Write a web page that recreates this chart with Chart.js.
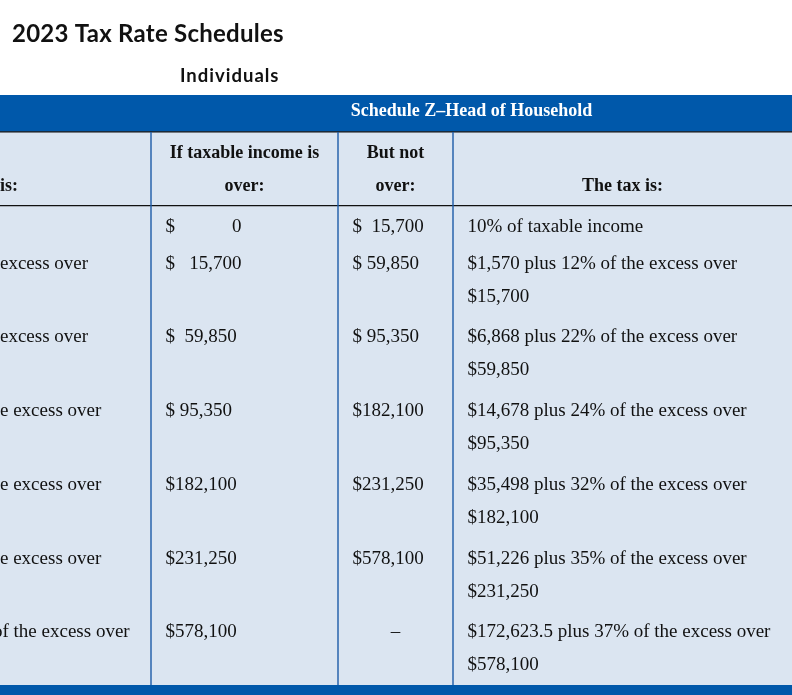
<!DOCTYPE html>
<html><head><meta charset="utf-8">
<script src="https://cdn.jsdelivr.net/npm/chart.js@4"></script>
<style>html,body{margin:0;padding:0;background:#fff;overflow:hidden}canvas{display:block}</style>
</head><body>
<canvas id="c" width="792" height="695"></canvas>
<script>
// ---------- DATA ----------
const pageTitle = "2023 Tax Rate Schedules";
const pageSubtitle = "Individuals";
const scheduleName = "Schedule Z\u2013Head of Household";
const headerLine1 = ["", "If taxable income is", "But not", ""];
const headerLine2 = ["is:", "over:", "over:", "The tax is:"];
const ifOver = [0, 15700, 59850, 95350, 182100, 231250, 578100];
const butNotOver = [15700, 59850, 95350, 182100, 231250, 578100, null];
const baseTax = [0, 1570, 6868, 14678, 35498, 51226, 172623.5];
const ratePct = [10, 12, 22, 24, 32, 35, 37];
const ifOverLabels = ["$            0", "$   15,700", "$  59,850", "$ 95,350", "$182,100", "$231,250", "$578,100"];
const butNotLabels = ["$  15,700", "$ 59,850", "$ 95,350", "$182,100", "$231,250", "$578,100", "\u2013"];
const leftColLabels = ["", "excess over", "excess over", "e excess over", "e excess over", "e excess over", "of the excess over"];

// ---------- LAYOUT / STYLE ----------
const X_MAX = 792;          // x-scale units span the table width
const LINES = 16;           // y-scale units: text lines in the table
const colEdges = [0, 151, 338, 453, 792];
const CELL_PAD = 14.5;
const LINE_SHIFT = [0.07, -0.03]; // first / second text line inside a cell (y units)
const BAND = '#0058AA', BODY = '#DBE5F1', VLINE = '#1D5CA8', HLINE = '#111111';
const SERIF = '"Liberation Serif", "Times New Roman", serif';
const SANS = 'Lato, "Open Sans", sans-serif';

const fmt = v => v.toLocaleString('en-US');
const rowStartLine = i => (i === 0 ? 3 : 2 + 2 * i);
const taxText = i => i === 0
  ? [ratePct[i] + "% of taxable income"]
  : ["$" + fmt(baseTax[i]) + " plus " + ratePct[i] + "% of the excess over", "$" + fmt(ifOver[i])];

const lineDs = (pts, color) => ({
  type: 'line', data: pts, borderColor: color, borderWidth: 1.4,
  pointRadius: 0, showLine: true, fill: false, tension: 0
});
const datasets = [
  ...colEdges.slice(1, 4).map(x => lineDs([{x, y: 1}, {x, y: LINES}], VLINE)),
  ...[1, 3].map(y => lineDs([{x: 0, y}, {x: X_MAX, y}], HLINE))
];

const tablePlugin = {
  id: 'table',
  beforeDatasetsDraw(chart) {
    const {ctx, scales: {x, y}} = chart;
    ctx.save();
    ctx.fillStyle = '#fff';
    ctx.fillRect(0, 0, chart.width, chart.height);
    const x0 = x.getPixelForValue(0), x1 = x.getPixelForValue(X_MAX);
    ctx.fillStyle = BAND;
    ctx.fillRect(x0, y.getPixelForValue(0), x1 - x0, y.getPixelForValue(1) - y.getPixelForValue(0));
    ctx.fillRect(x0, y.getPixelForValue(LINES), x1 - x0, chart.height - y.getPixelForValue(LINES));
    ctx.fillStyle = BODY;
    ctx.fillRect(x0, y.getPixelForValue(1), x1 - x0, y.getPixelForValue(LINES) - y.getPixelForValue(1));
    // titles
    ctx.fillStyle = '#111';
    ctx.textBaseline = 'alphabetic';
    ctx.textAlign = 'left';
    ctx.font = 'bold 24px ' + SANS;
    ctx.letterSpacing = '0.25px';
    ctx.fillText(pageTitle, 12, 41.5);
    ctx.font = 'bold 18.5px ' + SANS;
    ctx.letterSpacing = '1px';
    ctx.fillText(pageSubtitle, 180, 82);
    ctx.letterSpacing = '0px';
    ctx.restore();
  },
  afterDatasetsDraw(chart) {
    const {ctx, scales: {x, y}} = chart;
    const mid = l => y.getPixelForValue(l + 0.5);
    const midK = (l, k) => y.getPixelForValue(l + k + 0.5 + LINE_SHIFT[k]);
    const colCenter = c => (x.getPixelForValue(colEdges[c]) + x.getPixelForValue(colEdges[c + 1])) / 2;
    const colLeft = c => x.getPixelForValue(colEdges[c]) + CELL_PAD;
    ctx.save();
    ctx.textBaseline = 'middle';
    // band title
    ctx.fillStyle = '#fff';
    ctx.font = 'bold 18px ' + SERIF;
    ctx.textAlign = 'center';
    ctx.fillText(scheduleName, (x.getPixelForValue(colEdges[1]) + x.getPixelForValue(X_MAX)) / 2, mid(0) - 2);
    // header row
    ctx.fillStyle = '#111';
    headerLine1.forEach((t, c) => { if (t) ctx.fillText(t, colCenter(c), midK(1, 0)); });
    headerLine2.forEach((t, c) => {
      if (!t) return;
      if (c === 0) { ctx.textAlign = 'left'; ctx.fillText(t, 0, midK(1, 1)); ctx.textAlign = 'center'; }
      else ctx.fillText(t, colCenter(c), midK(1, 1));
    });
    // body rows
    ctx.font = '19px ' + SERIF;
    ifOver.forEach((v, i) => {
      const l = rowStartLine(i);
      const yy = midK(l, 0);
      ctx.textAlign = 'left';
      const lc = leftColLabels[i];
      if (lc) ctx.fillText(lc, lc.startsWith('of') ? -7 : 0, yy);
      ctx.fillText(ifOverLabels[i], colLeft(1), yy);
      if (butNotOver[i] === null) { ctx.textAlign = 'center'; ctx.fillText(butNotLabels[i], colCenter(2), yy); ctx.textAlign = 'left'; }
      else ctx.fillText(butNotLabels[i], colLeft(2), yy);
      taxText(i).forEach((t, k) => ctx.fillText(t, colLeft(3), midK(l, k)));
    });
    ctx.restore();
  }
};

new Chart(document.getElementById('c'), {
  type: 'scatter',
  data: { datasets },
  options: {
    responsive: false, animation: false, devicePixelRatio: 1,
    layout: { padding: { top: 95, bottom: 10, left: 0, right: 0 } },
    scales: {
      x: { type: 'linear', min: 0, max: X_MAX, display: false },
      y: { type: 'linear', min: 0, max: LINES, reverse: true, display: false }
    },
    plugins: { legend: { display: false }, tooltip: { enabled: false } },
    events: []
  },
  plugins: [tablePlugin]
});
</script>
</body></html>
